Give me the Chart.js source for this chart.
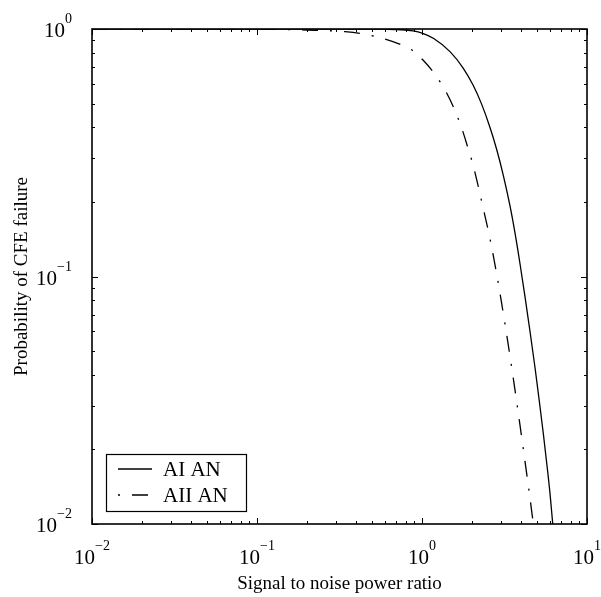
<!DOCTYPE html>
<html>
<head>
<meta charset="utf-8">
<script src="https://cdn.jsdelivr.net/npm/chart.js@4"></script>
<style>
  body { margin: 0; background: #fff; }
  #wrap { width: 601px; height: 597px; }
</style>
</head>
<body>
<div id="wrap"><canvas id="cfeChart" width="601" height="597"></canvas></div>
<script>
// signal to noise power ratio (x) and probability of CFE failure (y)
const snrAI  = [0.01, 0.1, 0.3, 0.45, 0.6, 0.75, 0.882, 1.0, 1.171, 1.478, 1.780, 2.046, 2.301, 2.583, 2.836,
                3.110, 3.415, 3.661, 3.926, 4.209, 4.513, 4.840, 5.139, 5.435, 5.779, 5.969, 6.2];
const probAI = [1.0, 1.0, 0.9999, 0.9995, 0.998, 0.993, 0.982, 0.963, 0.917, 0.810, 0.694, 0.591, 0.496, 0.400, 0.326,
                0.2564, 0.1928, 0.1500, 0.1126, 0.0829, 0.0601, 0.0429, 0.0314, 0.0232, 0.01626, 0.01327, 0.0100];

const snrAII  = [0.01, 0.1, 0.2, 0.3415, 0.507, 0.753, 0.886, 1.014, 1.166, 1.298, 1.411, 1.548, 1.676,
                 1.772, 1.900, 2.001, 2.095, 2.301, 2.609, 2.900, 3.184, 3.498, 3.782, 4.111, 4.450, 4.73];
const probAII = [1.0, 0.9975, 0.990, 0.975, 0.937, 0.862, 0.815, 0.749, 0.672, 0.607, 0.551, 0.485, 0.426,
                 0.384, 0.330, 0.295, 0.263, 0.2006, 0.1375, 0.0939, 0.0643, 0.0428, 0.0299, 0.0201, 0.01365, 0.0100];

const seriesLabels = ['AI AN', 'AII AN'];
const xTicks = [0.01, 0.1, 1, 10];
const yTicks = [0.01, 0.1, 1];

const toPoints = (xs, ys) => xs.map((v, i) => ({ x: v, y: ys[i] }));
const serif = '"Liberation Serif", "Times New Roman", serif';
const dashDot = [16, 12, 2, 12];

// writes 10^n as "10" with a raised exponent
function powerLabel(ctx, v, cx, baseline, align) {
    const e = Math.round(Math.log10(v));
    const expText = e < 0 ? '\u2212' + (-e) : String(e);
    ctx.font = '21px ' + serif;
    const wBase = ctx.measureText('10').width;
    ctx.font = '14px ' + serif;
    const wExp = ctx.measureText(expText).width;
    const total = wBase + wExp;
    let start = align === 'right' ? cx - total : cx - total / 2;
    ctx.textAlign = 'left';
    ctx.textBaseline = 'alphabetic';
    ctx.font = '21px ' + serif;
    ctx.fillText('10', start, baseline);
    ctx.font = '14px ' + serif;
    ctx.fillText(expText, start + wBase, baseline - 14);
}

const axesPlugin = {
    id: 'matlabAxes',
    afterDraw(chart) {
        const { ctx, chartArea: a, scales: { x, y } } = chart;
        ctx.save();
        ctx.strokeStyle = '#000';
        ctx.fillStyle = '#000';

        // inner ticks on all four sides
        ctx.lineWidth = 1;
        ctx.beginPath();
        for (let e = -2; e <= 1; e++) {
            for (let m = 1; m <= 9; m++) {
                const v = m * Math.pow(10, e);
                const len = m === 1 ? 6 : 3;
                if (v >= 0.01 && v <= 10) {
                    const px = Math.round(x.getPixelForValue(v)) + 0.5;
                    ctx.moveTo(px, a.bottom); ctx.lineTo(px, a.bottom - len);
                    ctx.moveTo(px, a.top); ctx.lineTo(px, a.top + len);
                }
                if (v >= 0.01 && v <= 1) {
                    const py = Math.round(y.getPixelForValue(v)) + 0.5;
                    ctx.moveTo(a.left, py); ctx.lineTo(a.left + len, py);
                    ctx.moveTo(a.right, py); ctx.lineTo(a.right - len, py);
                }
            }
        }
        ctx.stroke();

        // box
        ctx.lineWidth = 1.6;
        ctx.strokeRect(a.left, a.top, a.right - a.left, a.bottom - a.top);

        // tick labels
        xTicks.forEach(v => powerLabel(ctx, v, x.getPixelForValue(v), a.bottom + 40, 'center'));
        yTicks.forEach(v => powerLabel(ctx, v, a.left - 20, y.getPixelForValue(v) + 8, 'right'));

        // axis titles
        ctx.font = '19px ' + serif;
        ctx.textAlign = 'center';
        ctx.textBaseline = 'alphabetic';
        ctx.fillText('Signal to noise power ratio', (a.left + a.right) / 2, a.bottom + 65);
        ctx.save();
        ctx.translate(27, (a.top + a.bottom) / 2);
        ctx.rotate(-Math.PI / 2);
        ctx.fillText('Probability of CFE failure', 0, 0);
        ctx.restore();

        // legend, bottom left inside the axes
        const lx = a.left + 14, ly = a.bottom - 70, lw = 140, lh = 57;
        ctx.fillStyle = '#fff';
        ctx.fillRect(lx, ly, lw, lh);
        ctx.lineWidth = 1.2;
        ctx.strokeRect(lx + 0.5, ly + 0.5, lw, lh);
        chart.data.datasets.forEach((ds, i) => {
            const rowY = ly + 15 + i * 26;
            ctx.beginPath();
            ctx.lineWidth = ds.borderWidth;
            ctx.setLineDash(ds.borderDash || []);
            ctx.lineDashOffset = ds.borderDash ? 28 : 0;
            ctx.moveTo(lx + 12, rowY);
            ctx.lineTo(lx + 46, rowY);
            ctx.stroke();
            ctx.setLineDash([]);
            ctx.fillStyle = '#000';
            ctx.font = '21px ' + serif;
            ctx.textAlign = 'left';
            ctx.textBaseline = 'middle';
            ctx.fillText(ds.label, lx + 57, rowY + 1);
        });
        ctx.restore();
    }
};

new Chart(document.getElementById('cfeChart').getContext('2d'), {
    type: 'line',
    data: {
        datasets: [{
            label: seriesLabels[0],
            data: toPoints(snrAI, probAI),
            borderColor: '#000',
            borderWidth: 1.3,
            pointRadius: 0,
            cubicInterpolationMode: 'monotone',
            fill: false
        }, {
            label: seriesLabels[1],
            data: toPoints(snrAII, probAII),
            borderColor: '#000',
            borderWidth: 1.3,
            borderDash: dashDot,
            pointRadius: 0,
            cubicInterpolationMode: 'monotone',
            fill: false
        }]
    },
    options: {
        responsive: false,
        animation: false,
        events: [],
        layout: { padding: { left: 0, right: 14, top: 29, bottom: 0 } },
        plugins: { legend: { display: false }, tooltip: { enabled: false } },
        scales: {
            x: {
                type: 'logarithmic',
                min: 0.01,
                max: 10,
                grid: { display: false },
                border: { display: false },
                ticks: { display: false },
                afterFit: s => { s.height = 73; }
            },
            y: {
                type: 'logarithmic',
                min: 0.01,
                max: 1,
                grid: { display: false },
                border: { display: false },
                ticks: { display: false },
                afterFit: s => { s.width = 92; }
            }
        }
    },
    plugins: [axesPlugin]
});
</script>
</body>
</html>
